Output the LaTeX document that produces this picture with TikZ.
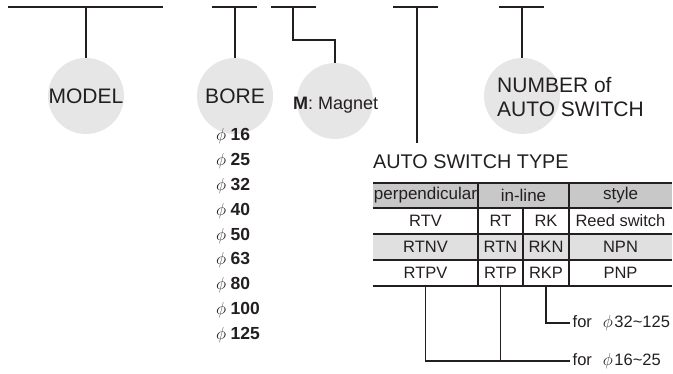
\documentclass[tikz,border=0pt]{standalone}
\usepackage{fontspec}
\setmainfont{Liberation Sans}
\definecolor{ink}{HTML}{231F20}
\definecolor{circfill}{HTML}{E6E6E6}
\definecolor{hdrfill}{HTML}{C8C8C8}
\definecolor{rowfill}{HTML}{E0E0E0}
\tikzset{
  conn/.style={draw=ink, line width=1.1pt},
  bubble/.style={circle, fill=circfill, minimum size=76pt, inner sep=0pt, text=ink, font=\fontsize{21}{24}\selectfont},
  bigtext/.style={text=ink, font=\fontsize{21}{24}\selectfont, inner sep=0pt},
  midtext/.style={text=ink, font=\fontsize{18}{21}\selectfont, inner sep=0pt},
  titletext/.style={text=ink, font=\fontsize{19.8}{23}\selectfont, inner sep=0pt},
  cell/.style={text=ink, font=\fontsize{16.5}{19}\selectfont, inner sep=0pt, minimum height=26pt},
  hcell/.style={cell, font=\fontsize{17}{19}\selectfont},
  borelbl/.style={text=ink, font=\fontsize{17.5}{20}\selectfont, anchor=base west, inner sep=0pt},
  notelbl/.style={text=ink, font=\fontsize{16.5}{19}\selectfont, anchor=west, inner sep=2.5pt},
}
\begin{document}
\begin{tikzpicture}[x=1pt,y=-1pt]
\useasboundingbox (0,0) rectangle (673,374);

% top bars
\coordinate (m1) at (8,7);   \coordinate (m2) at (163,7);  \coordinate (mt) at (86,7);
\coordinate (b1) at (212,7); \coordinate (b2) at (257,7);  \coordinate (bt) at (235,7);
\coordinate (g1) at (271,7); \coordinate (g2) at (316,7);  \coordinate (gt) at (293,7);
\coordinate (s1) at (393,7); \coordinate (s2) at (438,7);  \coordinate (st) at (417,7);
\coordinate (n1) at (499,7); \coordinate (n2) at (544,7);  \coordinate (nt) at (522,7);
\coordinate (send) at (417,143);

\draw[conn] (m1) -- (m2);
\draw[conn] (b1) -- (b2);
\draw[conn] (g1) -- (g2);
\draw[conn] (s1) -- (s2);
\draw[conn] (n1) -- (n2);

% bubbles
\node[bubble] (model) at (86,96) {MODEL};
\node[bubble] (bore) at (235,96) {BORE};
\node[bubble] (magnet) at (335,101) {};
\node[midtext, anchor=base west] (magtxt) at (293,110) {\textbf{M}: Magnet};
\node[bubble] (number) at (522,96) {};
\node[bigtext, anchor=west, align=left] (numtxt) at (497,97) {NUMBER of\\AUTO SWITCH};

% connectors from bars
\draw[conn] (mt) -- (model.north);
\draw[conn] (bt) -- (bore.north);
\draw[conn] (gt) -- ++(0,33) -| (magnet.north);
\draw[conn] (st) -- (send);
\draw[conn] (nt) -- (number.north);

% bore list
\foreach \v [count=\i from 0] in {16,25,32,40,50,63,80,100,125}{
  \node[borelbl] (bl\v) at (216,{141+24.8*\i}) {$\phi$\hspace{4.5pt}\textbf{\v}};
}

% auto switch type
\node[titletext, anchor=base west] (sttitle) at (373,169) {AUTO SWITCH TYPE};

\fill[hdrfill] (373,183) rectangle (672,208);
\fill[rowfill] (373,234) rectangle (672,260);
\foreach \yy in {183,208,234,260,286}{
  \draw[conn] (373,\yy) -- (672,\yy);
}
\draw[conn] (478,183) -- (478,286);
\draw[conn] (569,183) -- (569,286);
\draw[conn] (523,208) -- (523,286);

\node[hcell] (hperp) at (425.5,195.5) {perpendicular};
\node[hcell] (hinl) at (523.5,195.5) {in-line};
\node[hcell] (hsty) at (620.5,195.5) {style};

\node[cell] (rtv) at (425.5,221) {RTV};
\node[cell] (rt) at (500.5,221) {RT};
\node[cell] (rk) at (546,221) {RK};
\node[cell] (reed) at (620.5,221) {Reed switch};

\node[cell] (rtnv) at (425.5,247) {RTNV};
\node[cell] (rtn) at (500.5,247) {RTN};
\node[cell] (rkn) at (546,247) {RKN};
\node[cell] (npn) at (620.5,247) {NPN};

\node[cell] (rtpv) at (425.5,273) {RTPV};
\node[cell] (rtp) at (500.5,273) {RTP};
\node[cell] (rkp) at (546,273) {RKP};
\node[cell] (pnp) at (620.5,273) {PNP};

% notes
\node[notelbl] (f32) at (570,323) {for\hspace{11pt}$\phi$\hspace{1.5pt}32\textasciitilde125};
\node[notelbl] (f16) at (570,361) {for\hspace{11pt}$\phi$\hspace{1.5pt}16\textasciitilde25};

\draw[conn] (rkp.south) |- (f32.west);
\draw[conn] (rtpv.south) |- (f16.west);
\draw[conn] (rtp.south) -- (rtp.south |- f16.west);
\end{tikzpicture}
\end{document}
